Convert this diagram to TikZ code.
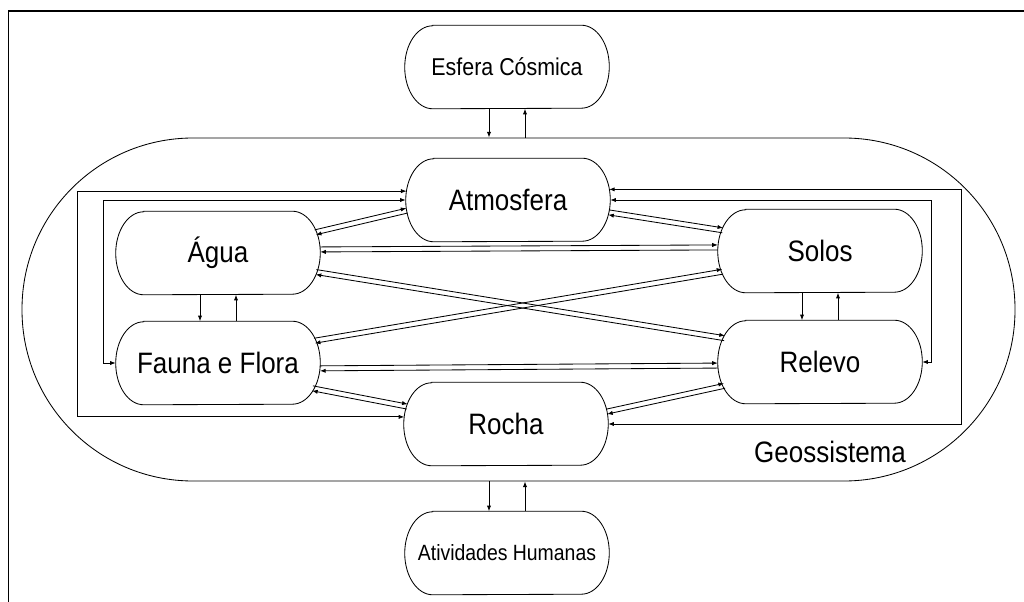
\documentclass[tikz,border=0pt]{standalone}
\usepackage{fontspec}
\setmainfont{Liberation Sans}
\newfontfamily\narrowsans[FakeStretch=0.88]{Liberation Sans}
\usetikzlibrary{arrows.meta,shapes.misc,calc}

\tikzset{
  box/.style={rounded rectangle, rounded rectangle arc length=136,
    minimum width=204*0.025cm, minimum height=83*0.025cm, inner sep=0pt,
    font=\narrowsans\fontsize{21}{23}\selectfont},
  tip/.style={-{Latex[length=4pt,width=3pt]}, line width=0.6pt},
  both/.style={{Latex[length=4pt,width=3pt]}-{Latex[length=4pt,width=3pt]}, line width=0.6pt},
}

% outline of a box, ends as half ellipses
\newcommand\boxoutline[1]{%
  \draw[line width=0.6pt] ($(#1.west |- #1.north)+(28,0)$) -- ($(#1.east |- #1.north)+(-28,0)$)
    arc[start angle=90, end angle=-90, x radius=28*0.025cm, y radius=41.5*0.025cm]
    -- ($(#1.west |- #1.south)+(28,0)$)
    arc[start angle=270, end angle=90, x radius=28*0.025cm, y radius=41.5*0.025cm] -- cycle;
}
% two opposite arrows side by side
\newcommand\pairline[2]{%
  \draw[tip] ($(#1)!2.5*0.025cm!90:(#2)$) -- ($(#2)!2.5*0.025cm!-90:(#1)$);
  \draw[tip] ($(#2)!2.5*0.025cm!90:(#1)$) -- ($(#1)!2.5*0.025cm!-90:(#2)$);
}
% down and up arrows between stacked boxes
\newcommand\updown[2]{%
  \draw[tip] ($(#1.south)+(-18,0)$) -- ($(#1.south |- #2.north)+(-18,0)$);
  \draw[tip] ($(#1.south |- #2.north)+(18,0)$) -- ($(#1.south)+(18,0)$);
}

\begin{document}
\begin{tikzpicture}[x=0.025cm,y=-0.025cm]
\useasboundingbox (0,0) rectangle (1024,602);

% Drawing frame
\draw[line width=0.6pt] (8,602) -- (8,11);
\draw[line width=1.2pt] (8,11) -- (1024,11);

% Drawing geossistema
\node[draw, rectangle, rounded corners=171*0.025cm, minimum width=993*0.025cm,
  minimum height=343*0.025cm, line width=0.6pt] (geo) at (518.5,309.5) {};
\node[font=\narrowsans\fontsize{21}{23}\selectfont] (geolabel) at (830,452) {Geossistema};

% Drawing boxes
\node[box, font=\narrowsans\fontsize{17.3}{19}\selectfont] (esfera) at (507,67) {Esfera Cósmica};
\node[box] (atmos) at (508,200) {Atmosfera};
\node[box] (agua) at (218,253) {Água};
\node[box] (solos) at (820,251) {Solos};
\node[box] (fauna) at (218,363) {Fauna e Flora};
\node[box] (relevo) at (820,362) {Relevo};
\node[box] (rocha) at (506,424) {Rocha};
\node[box, font=\narrowsans\fontsize{15.7}{17}\selectfont] (ativ) at (507,553) {Atividades Humanas};
\foreach \n in {esfera,atmos,agua,solos,fauna,relevo,rocha,ativ}
  {\boxoutline{\n}}

% Drawing exchanges with outside
\draw[tip] ($(esfera.south)+(-18,0)$) -- ($(esfera.south |- geo.north)+(-18,0)$);
\draw[tip] ($(esfera.south |- geo.north)+(18,0)$) -- ($(esfera.south)+(18,0)$);
\draw[tip] ($(ativ.north |- geo.south)+(-18,0)$) -- ($(ativ.north)+(-18,0)$);
\draw[tip] ($(ativ.north)+(18,0)$) -- ($(ativ.north |- geo.south)+(18,0)$);

% Drawing vertical pairs
\updown{agua}{fauna}
\updown{solos}{relevo}

% Drawing paired links
\pairline{agua.12}{atmos.186}
\pairline{atmos.353}{solos.168}
\pairline{agua.2}{solos.178}
\pairline{agua.349}{relevo.166}
\pairline{fauna.13}{solos.192}
\pairline{fauna.357}{relevo.182}
\pairline{fauna.345}{rocha.170}
\pairline{relevo.194}{rocha.7}

% Drawing loops round the sides
\coordinate (l1) at (77,0);
\coordinate (l2) at (103,0);
\coordinate (r1) at (961,0);
\coordinate (r2) at (931,0);
\draw[both] (atmos.175) -- (atmos.175 -| l1) |- (rocha.176);
\draw[both] (atmos.west) -- (atmos.west -| l2) |- (fauna.west);
\draw[both] (atmos.6) -- (atmos.6 -| r1) |- (rocha.east);
\draw[both] (atmos.east) -- (atmos.east -| r2) |- (relevo.east);
\end{tikzpicture}
\end{document}
